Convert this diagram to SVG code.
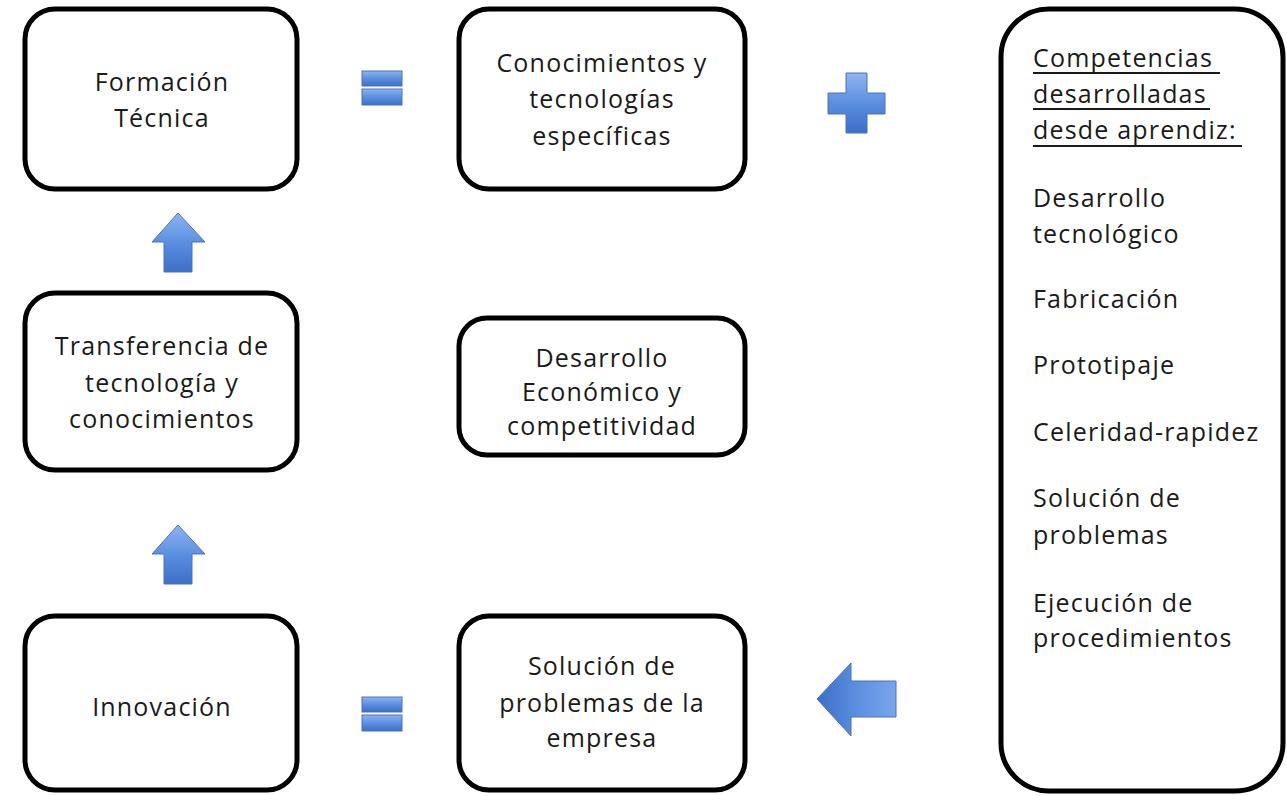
<svg xmlns="http://www.w3.org/2000/svg" width="1287" height="796" viewBox="0 0 1287 796">
<defs>
<linearGradient id="blueV" x1="0" y1="0" x2="0" y2="1">
<stop offset="0" stop-color="#8fb4f0"/>
<stop offset="0.5" stop-color="#5b8fe0"/>
<stop offset="1" stop-color="#3a6fc8"/>
</linearGradient>
<linearGradient id="blueH" x1="0" y1="0" x2="1" y2="0">
<stop offset="0" stop-color="#3a6fc8"/>
<stop offset="0.5" stop-color="#5b8fe0"/>
<stop offset="1" stop-color="#7aa5ec"/>
</linearGradient>
<style>
.box{fill:#fff;stroke:#000;stroke-width:5}
.t{font-family:"Open Sans","Noto Sans",sans-serif;font-size:25px;letter-spacing:1.2px;fill:#1a1a1a;text-anchor:middle}
.l{font-family:"Open Sans","Noto Sans",sans-serif;font-size:25px;letter-spacing:1.2px;fill:#1a1a1a}
.u{stroke:#1a1a1a;stroke-width:2}
.sym{stroke:#4a72b8;stroke-width:1}
</style>
</defs>
<rect width="1287" height="796" fill="#fff"/>
<g id="formacion">
<rect class="box" x="25" y="9" width="272" height="180" rx="30"/>
<text class="t" x="162" y="91">Formación</text>
<text class="t" x="162" y="127">Técnica</text>
</g>
<g id="conocimientos">
<rect class="box" x="459" y="9" width="286" height="180" rx="30"/>
<text class="t" x="602" y="72">Conocimientos y</text>
<text class="t" x="602" y="108">tecnologías</text>
<text class="t" x="602" y="145">específicas</text>
</g>
<g id="competencias">
<rect class="box" x="1001" y="9" width="282" height="782" rx="48"/>
<text class="l" x="1033" y="67">Competencias</text>
<text class="l" x="1033" y="103">desarrolladas</text>
<text class="l" x="1033" y="139">desde aprendiz:</text>
<line class="u" x1="1033" y1="73" x2="1220" y2="73"/>
<line class="u" x1="1033" y1="109" x2="1210" y2="109"/>
<line class="u" x1="1033" y1="146" x2="1242" y2="146"/>
<text class="l" x="1033" y="207">Desarrollo</text>
<text class="l" x="1033" y="243">tecnológico</text>
<text class="l" x="1033" y="308">Fabricación</text>
<text class="l" x="1033" y="374">Prototipaje</text>
<text class="l" x="1033" y="441">Celeridad-rapidez</text>
<text class="l" x="1033" y="507">Solución de</text>
<text class="l" x="1033" y="544">problemas</text>
<text class="l" x="1033" y="612">Ejecución de</text>
<text class="l" x="1033" y="647">procedimientos</text>
</g>
<g id="transferencia">
<rect class="box" x="25" y="293" width="272" height="177" rx="30"/>
<text class="t" x="162" y="355">Transferencia de</text>
<text class="t" x="162" y="392">tecnología y</text>
<text class="t" x="162" y="428">conocimientos</text>
</g>
<g id="desarrollo">
<rect class="box" x="459" y="318" width="286" height="137" rx="28"/>
<text class="t" x="602" y="367">Desarrollo</text>
<text class="t" x="602" y="401">Económico y</text>
<text class="t" x="602" y="435">competitividad</text>
</g>
<g id="innovacion">
<rect class="box" x="25" y="616" width="272" height="174" rx="30"/>
<text class="t" x="162" y="716">Innovación</text>
</g>
<g id="solucion">
<rect class="box" x="459" y="616" width="286" height="174" rx="30"/>
<text class="t" x="602" y="675">Solución de</text>
<text class="t" x="602" y="712">problemas de la</text>
<text class="t" x="602" y="747">empresa</text>
</g>
<g id="connectors">
<rect class="sym" x="362" y="71" width="40" height="15" fill="url(#blueV)"/>
<rect class="sym" x="362" y="89" width="40" height="16" fill="url(#blueV)"/>
<rect class="sym" x="362" y="697" width="40" height="15" fill="url(#blueV)"/>
<rect class="sym" x="362" y="715" width="40" height="16" fill="url(#blueV)"/>
<path class="sym" fill="url(#blueV)" d="M846 73 H867 V93 H885 V114 H867 V133 H846 V114 H828 V93 H846 Z"/>
<path class="sym" fill="url(#blueV)" d="M178 213 L205 242 H192 V272 H164 V242 H152 Z"/>
<path class="sym" fill="url(#blueV)" d="M178 525 L205 554 H192 V584 H164 V554 H152 Z"/>
<path class="sym" fill="url(#blueH)" d="M817 699 L851 663 V681 H896 V717 H851 V736 Z"/>
</g>
</svg>
